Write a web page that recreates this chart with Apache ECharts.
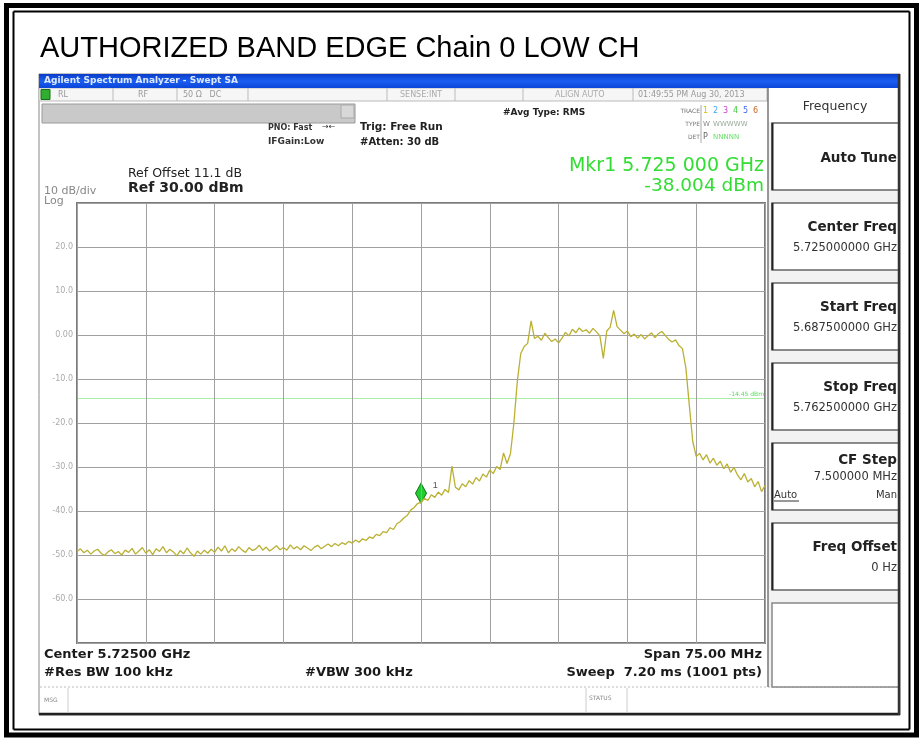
<!DOCTYPE html>
<html><head><meta charset="utf-8">
<script src="https://cdn.jsdelivr.net/npm/echarts@6/dist/echarts.min.js"></script>
<style>html,body{margin:0;padding:0;background:#fff}#c{width:923px;height:740px}</style>
</head><body><div id="c"></div>
<script>
// ---------- data ----------
const titleText = 'AUTHORIZED BAND EDGE Chain 0 LOW CH';
const centerGHz = 5.725;
const spanMHz = 75;
const yTickValues = [-60, -50, -40, -30, -20, -10, 0, 10, 20];
const yTickLabels = ['-60.0', '-50.0', '-40.0', '-30.0', '-20.0', '-10.0', '0.00', '10.0', '20.0'];
const traceDbm = [
  -49.2, -48.6, -49.5, -48.9, -49.8, -49.1, -48.7, -49.6, -50.1, -49.3,
  -48.8, -49.7, -49.2, -50.0, -48.9, -49.4, -48.5, -49.8, -49.1, -48.3,
  -49.6, -48.8, -49.9, -48.6, -49.2, -48.1, -49.5, -48.7, -49.3, -50.2,
  -49.0, -49.7, -48.4, -49.5, -50.3, -49.1, -49.8, -48.9, -49.6, -48.7,
  -49.4, -48.2, -49.1, -47.9, -49.5, -48.6, -49.2, -48.1, -48.9, -49.4,
  -48.3, -49.0, -48.6, -47.8, -48.9, -48.2, -49.1, -48.5, -47.9, -48.8,
  -48.3, -48.9, -47.7, -48.6, -48.1, -48.8, -47.9, -48.4, -49.0, -48.2,
  -47.8, -48.6, -48.0, -47.5,
  -48.1, -47.4, -47.9, -47.2, -47.6, -46.9, -47.3, -46.6, -47.1, -46.3, -46.7,
  -45.9, -46.2, -45.3, -45.6, -44.7, -44.9, -43.8, -44.2, -42.9, -42.4, -41.6, -41.0, -39.8,
  -39.2, -38.3, -38.004,
  -37.1, -37.6, -36.3, -36.9, -35.7, -36.4, -35.1, -35.8, -29.8, -34.6,
  -35.2, -33.8, -34.5, -33.1, -33.9, -32.4, -33.2, -31.6, -32.3, -30.7,
  -31.5, -29.9, -30.6, -26.8, -29.2, -27.0, -20.0, -10.5, -4.2,
  -2.6, -1.9, 3.2, -0.8, -0.3, -1.2, 0.4, -0.6, -1.5, -0.9,
  -1.8, -0.7, 0.6, -0.2, 1.3, 0.5, 1.6, 0.8, 1.2, 0.4,
  1.5, 0.7, -0.2, -5.3, 0.9, 1.8, 5.6, 1.9, 1.1, 0.3,
  0.9, -0.4, 0.2, -0.7, 0.1, -0.9, -0.2, 0.5, -0.6, 0.3,
  0.8, -0.1, -1.0, -1.6, -1.1, -2.4, -3.1,
  -7.5, -16.0, -24.2, -27.6,
  -26.9, -28.4, -27.2, -29.1, -28.0, -29.6, -28.7, -30.4, -29.3, -31.2,
  -30.1, -31.8, -32.9, -31.5, -33.4, -32.6, -34.5, -33.3, -35.6, -34.2
];
const markerOffsetMHz = 0;
const markerDbm = -38.004;
const displayLineDbm = -14.45;
const displayLineLabel = '-14.45 dBm';
const markerText = ['Mkr1 5.725 000 GHz', '-38.004 dBm'];
const softkeyTitle = 'Frequency';
const softkeyLabels = ['Auto Tune', 'Center Freq', 'Start Freq', 'Stop Freq', 'CF Step', 'Freq Offset'];
const softkeyValues = ['', '5.725000000 GHz', '5.687500000 GHz', '5.762500000 GHz', '7.500000 MHz', '0 Hz'];
const bottomLeft = ['Center 5.72500 GHz', '#Res BW 100 kHz'];
const bottomMid = '#VBW 300 kHz';
const bottomRight = ['Span 75.00 MHz', 'Sweep  7.20 ms (1001 pts)'];

// ---------- build ----------
const F = 'Liberation Sans, Arial, Helvetica, sans-serif';
const FI = 'DejaVu Sans, Verdana, sans-serif';
const N = traceDbm.length;
const seriesData = traceDbm.map((v, i) => [-spanMHz / 2 + i * spanMHz / (N - 1), v]);

const G = [];
function T(x, y, text, size, fill, opts) {
  opts = opts || {};
  G.push({ type: 'text', z: opts.z || 10, style: {
    text: text, x: x, y: y, fill: fill,
    font: (opts.weight || 'normal') + ' ' + size + 'px ' + (opts.font || FI),
    textAlign: opts.align || 'left', textVerticalAlign: 'middle'
  }});
}
function R(x, y, w, h, fill, stroke, lw, z) {
  G.push({ type: 'rect', z: z == null ? 1 : z, shape: { x: x, y: y, width: w, height: h },
    style: { fill: fill || 'none', stroke: stroke || 'none', lineWidth: lw || 1 } });
}
function L(x1, y1, x2, y2, stroke, lw, z, dash) {
  G.push({ type: 'line', z: z == null ? 2 : z, shape: { x1: x1, y1: y1, x2: x2, y2: y2 },
    style: { stroke: stroke, lineWidth: lw || 1, lineDash: dash || null } });
}

// page borders
R(6.5, 5.5, 910, 729.5, 'none', '#000', 5, 20);
L(13.5, 11.5, 909.5, 11.5, '#000', 2, 20);
L(13.5, 11.5, 13.5, 729.5, '#000', 2, 20);
L(909.5, 11.5, 909.5, 729.5, '#000', 2, 20);
L(13.5, 729.5, 909.5, 729.5, '#000', 2, 20);

// title
T(40, 49, titleText, 29, '#000', { font: F });

// screenshot frame
R(39, 74, 861, 641, '#fff', '#888', 1, 0);
L(39, 714, 900, 714, '#222', 2.5, 5);
L(899, 74, 899, 715, '#333', 2.5, 5);
G.push({ type: 'rect', z: 3, shape: { x: 39, y: 74, width: 861, height: 14 },
  style: { fill: { type: 'linear', x: 0, y: 0, x2: 0, y2: 1, colorStops: [
    { offset: 0, color: '#0a3cc8' }, { offset: 0.5, color: '#1a5ef0' }, { offset: 1, color: '#0b46d8' }] } } });
T(44, 81, 'Agilent Spectrum Analyzer - Swept SA', 9, '#dde8ff', { weight: 'bold' });

// status row
R(39, 88, 729, 13, '#f6f6f6', '#bbb', 1, 2);
R(41, 89.5, 9, 10, '#2fae2f', '#176e17', 1, 3);
[113, 177, 248, 387, 455, 523, 633, 767].forEach(x => L(x, 88, x, 101, '#bbb', 1, 3));
T(58, 95, 'RL', 8, '#999');
T(138, 95, 'RF', 8, '#999');
T(183, 95, '50 \u03A9   DC', 8, '#999');
T(400, 95, 'SENSE:INT', 8, '#aaa');
T(555, 95, 'ALIGN AUTO', 8, '#aaa');
T(638, 95, '01:49:55 PM Aug 30, 2013', 8, '#999');

// message bar
R(42, 104, 313, 19, '#c9c9c9', '#9a9a9a', 1, 2);
R(341, 105, 13, 13, '#d8d8d8', '#aaa', 1, 3);

// setting texts
T(268, 128, 'PNO: Fast', 8, '#333', { weight: 'bold' });
T(322, 127, '\u2192\u2190', 8, '#333');
T(268, 142, 'IFGain:Low', 9, '#333', { weight: 'bold' });
T(360, 127, 'Trig: Free Run', 10.5, '#222', { weight: 'bold' });
T(360, 142, '#Atten: 30 dB', 10, '#222', { weight: 'bold' });
T(503, 113, '#Avg Type: RMS', 9, '#222', { weight: 'bold' });
T(700, 111, 'TRACE', 6, '#777', { align: 'right' });
T(700, 124, 'TYPE', 6, '#777', { align: 'right' });
T(700, 137, 'DET', 6, '#777', { align: 'right' });
const trColors = ['#c8c800', '#44aaee', '#cc44cc', '#44cc44', '#4466ee', '#cc6622'];
trColors.forEach((c, i) => T(703 + i * 10, 111, String(i + 1), 8, c));
T(703, 124, 'W', 7, '#888');
T(713, 124, 'WWWWW', 7, '#99aa99');
T(703, 137, 'P', 8, '#666');
T(713, 137, 'NNNNN', 7, '#66dd66');
L(701, 105, 701, 143, '#aaa', 1, 3);

// marker readout
T(764, 166, markerText[0], 19, '#33dd33', { align: 'right' });
T(764, 186, markerText[1], 18.5, '#33dd33', { align: 'right' });

// ref texts
T(128, 174, 'Ref Offset 11.1 dB', 12.5, '#222');
T(128, 188, 'Ref 30.00 dBm', 14, '#222', { weight: 'bold' });
T(44, 191, '10 dB/div', 11, '#888');
T(44, 201, 'Log', 11, '#888');

// bottom texts
T(44, 655, bottomLeft[0], 13, '#1a1a1a', { weight: 'bold' });
T(44, 673, bottomLeft[1], 13, '#1a1a1a', { weight: 'bold' });
T(305, 673, bottomMid, 13, '#1a1a1a', { weight: 'bold' });
T(762, 655, bottomRight[0], 13, '#1a1a1a', { weight: 'bold', align: 'right' });
T(762, 673, bottomRight[1], 13, '#1a1a1a', { weight: 'bold', align: 'right' });

// msg bar
L(40, 687, 898, 687, '#bbb', 1, 3, [2, 2]);
L(68, 688, 68, 712, '#ccc', 1, 3);
T(44, 700, 'MSG', 6, '#888');
L(586, 688, 586, 712, '#ccc', 1, 3);
L(627, 688, 627, 712, '#ccc', 1, 3);
T(589, 698, 'STATUS', 6, '#888');

// softkey panel
R(768, 88, 131, 599, '#f2f2f2', 'none', 1, 2);
L(768, 88, 768, 687, '#777', 1.5, 4);
R(768, 88, 131, 34, '#fff', 'none', 1, 3);
T(835, 107, softkeyTitle, 12.5, '#333', { align: 'center' });
softkeyLabels.forEach((lab, i) => {
  const top = 123 + i * 80, h = 67;
  R(772, top, 127, h, '#fff', '#666', 1.5, 4);
  L(772.5, top, 772.5, top + h, '#222', 2, 5);
  if (i === 0) {
    T(897, top + 35, lab, 13.5, '#222', { weight: 'bold', align: 'right' });
  } else if (i === 4) {
    T(897, top + 17, lab, 13.5, '#222', { weight: 'bold', align: 'right' });
    T(897, top + 34, softkeyValues[i], 11.5, '#333', { align: 'right' });
    T(774, top + 52, 'Auto', 10, '#333');
    L(774, top + 58, 799, top + 58, '#333', 1, 5);
    T(897, top + 52, 'Man', 10, '#333', { align: 'right' });
  } else {
    T(897, top + 24, lab, 13.5, '#222', { weight: 'bold', align: 'right' });
    T(897, top + 45, softkeyValues[i], 11.5, '#333', { align: 'right' });
  }
});
R(772, 603, 127, 84, '#fff', '#888', 1.5, 4);

// ---------- chart ----------
const chart = echarts.init(document.getElementById('c'), null, { renderer: 'canvas' });
chart.setOption({
  backgroundColor: '#fff',
  animation: false,
  graphic: { elements: G },
  grid: { left: 77, top: 203, width: 688, height: 440, show: true, borderColor: '#7a7a7a', borderWidth: 2, backgroundColor: 'transparent', z: 6 },
  xAxis: {
    type: 'value', min: -spanMHz / 2, max: spanMHz / 2, interval: spanMHz / 10,
    axisLine: { show: false }, axisTick: { show: false }, axisLabel: { show: false },
    splitLine: { show: true, lineStyle: { color: '#a0a0a0', width: 1 } }, z: 6
  },
  yAxis: {
    type: 'value', min: -70, max: 30, interval: 10,
    axisLine: { show: false }, axisTick: { show: false },
    axisLabel: { margin: 4, fontSize: 8, color: '#aaa', fontFamily: FI,
      formatter: v => { const k = yTickValues.indexOf(v); return k >= 0 ? yTickLabels[k] : ''; } },
    splitLine: { show: true, lineStyle: { color: '#a0a0a0', width: 1 } }, z: 6
  },
  series: [{
    type: 'line', data: seriesData, showSymbol: false, z: 8,
    lineStyle: { color: '#bab032', width: 1.3 },
    markLine: {
      silent: true, symbol: 'none',
      lineStyle: { color: '#aaeeaa', type: 'solid', width: 1 },
      label: { show: true, position: 'insideEndTop', formatter: displayLineLabel, color: '#55dd55', fontSize: 6, fontFamily: FI, distance: 1 },
      data: [{ yAxis: displayLineDbm }]
    },
    markPoint: {
      symbol: 'diamond', symbolSize: [11, 20], symbolOffset: [0, -9],
      itemStyle: { color: '#22cc33', borderColor: '#117711', borderWidth: 1 },
      label: { show: true, formatter: '1', position: 'right', offset: [1, -8], color: '#555', fontSize: 9, fontFamily: F },
      data: [{ coord: [markerOffsetMHz, markerDbm] }]
    }
  }]
});
</script></body></html>
